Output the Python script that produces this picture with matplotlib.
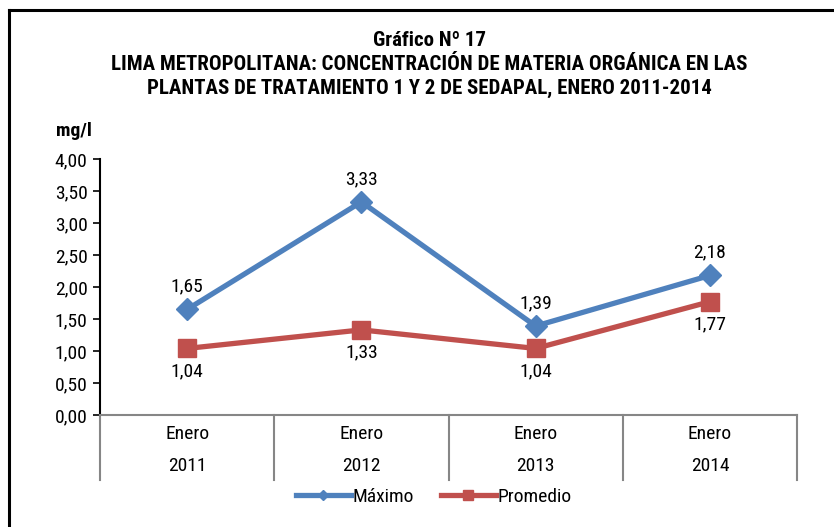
import matplotlib
matplotlib.use("Agg")
import matplotlib.pyplot as plt
from matplotlib.lines import Line2D

plt.rcParams["font.family"] = ["Roboto Condensed", "DejaVu Sans"]

categories = ["Enero\n2011", "Enero\n2012", "Enero\n2013", "Enero\n2014"]
maximo = [1.65, 3.33, 1.39, 2.18]
promedio = [1.04, 1.33, 1.04, 1.77]
yticks = [0.0, 0.5, 1.0, 1.5, 2.0, 2.5, 3.0, 3.5, 4.0]

BLUE = "#4F81BD"
RED = "#C0504D"
GREY = "#868686"
FS = 14

W, H = 834, 527
fig = plt.figure(figsize=(W / 100, H / 100), dpi=100)

# outer frame (runs off right/bottom edges like the source)
fig.add_artist(Line2D([9 / W, 1.02], [1 - 10 / H, 1 - 10 / H], transform=fig.transFigure,
                      color="black", lw=2.2))
fig.add_artist(Line2D([9 / W, 9 / W], [1 - 10 / H, -0.02], transform=fig.transFigure,
                      color="black", lw=2.2))

ax = fig.add_axes([100 / W, 1 - 415 / H, 697 / W, 256 / H])
x = list(range(len(categories)))
ax.plot(x, maximo, color=BLUE, lw=3.8, marker="D", ms=11, label="Máximo", zorder=3)
ax.plot(x, promedio, color=RED, lw=3.8, marker="s", ms=13, label="Promedio", zorder=3)

for xi, v in zip(x, maximo):
    ax.annotate(f"{v:.2f}".replace(".", ","), (xi, v), xytext=(0, 10),
                textcoords="offset points", ha="center", va="bottom", fontsize=FS)
for xi, v in zip(x, promedio):
    ax.annotate(f"{v:.2f}".replace(".", ","), (xi, v), xytext=(0, -10),
                textcoords="offset points", ha="center", va="top", fontsize=FS)

ax.set_xlim(-0.5, len(categories) - 0.5)
ax.set_ylim(0, 4)
ax.set_yticks(yticks)
ax.set_yticklabels([f"{t:.2f}".replace(".", ",") for t in yticks], fontsize=FS)
ax.tick_params(axis="y", direction="out", length=5, width=1.2, pad=4)
ax.set_xticks([])
for s in ["top", "right"]:
    ax.spines[s].set_visible(False)
ax.spines["left"].set_linewidth(1.5)
ax.spines["bottom"].set_color(GREY)
ax.spines["bottom"].set_linewidth(1.5)

# category separators below the axis
drop = -(480 - 415) / 256
for b in [-0.5 + i for i in range(len(categories) + 1)]:
    ax.plot([b, b], [0, drop * 4], color=GREY, lw=1.5, clip_on=False,
            transform=ax.transData)
for xi, lab in zip(x, categories):
    top, bot = lab.split("\n")
    ax.text(xi, -(434 - 415) / 256 * 4, top, ha="center", va="center", fontsize=FS)
    ax.text(xi, -(466 - 415) / 256 * 4, bot, ha="center", va="center", fontsize=FS)

ax.text(-0.037, 1.11, "mg/l", transform=ax.transAxes, ha="center", va="center",
        fontsize=FS, fontweight="bold")

fig.text(0.515, 1 - 40 / H, "Gráfico Nº 17", ha="center", va="center",
         fontsize=15, fontweight="bold")
fig.text(0.515, 1 - 64 / H, "LIMA METROPOLITANA: CONCENTRACIÓN DE MATERIA ORGÁNICA EN LAS",
         ha="center", va="center", fontsize=15, fontweight="bold")
fig.text(0.515, 1 - 88 / H, "PLANTAS DE TRATAMIENTO 1 Y 2 DE SEDAPAL, ENERO 2011-2014",
         ha="center", va="center", fontsize=15, fontweight="bold")

fig.legend(loc="center", bbox_to_anchor=(434 / W, 1 - 497 / H), ncol=2, frameon=False,
           fontsize=FS, handlelength=2.8, handletextpad=0.1, columnspacing=1.4,
           markerscale=0.5)

fig.savefig("out.png", dpi=100)
